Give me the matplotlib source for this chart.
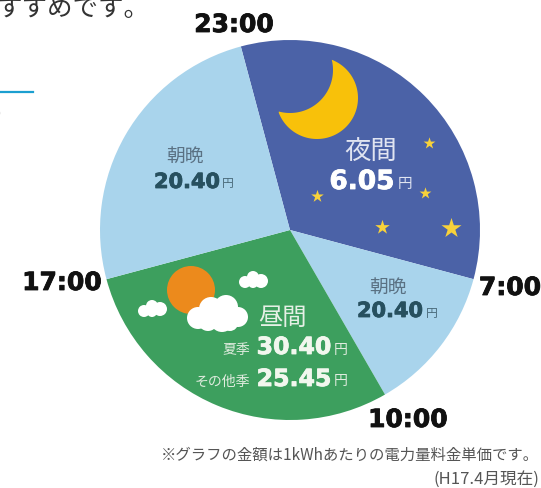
import numpy as np
import matplotlib
matplotlib.use("Agg")
import matplotlib.pyplot as plt
import matplotlib.patheffects as pe
from matplotlib.patches import Circle, Polygon

plt.rcParams['font.family'] = ['Noto Sans CJK JP', 'DejaVu Sans']

W, H = 541, 488
hours = [8, 3, 7, 6]
colors = ['#4b62a7', '#a9d4ec', '#3d9f5e', '#a9d4ec']
time_labels = ['23:00', '7:00', '10:00', '17:00']
price_night = '6.05'
price_morning = '20.40'
price_summer = '30.40'
price_other = '25.45'
note1 = '※グラフの金額は1kWhあたりの電力量料金単価です。'
note2 = '(H17.4月現在)'

fig = plt.figure(figsize=(W / 100, H / 100), dpi=100)
ax = fig.add_axes([0, 0, 1, 1])
Y = lambda y: H - y

ax.pie(hours, colors=colors, startangle=105, counterclock=False,
       center=(290, Y(230)), radius=190, frame=False)
ax.set_xlim(0, W)
ax.set_ylim(0, H)
ax.set_aspect('equal')
ax.axis('off')


def T(x, y, s, size, color, weight='normal', ha='center', family=None, stroke=0):
    kw = {'family': family} if family else {}
    t = ax.text(x, Y(y), s, fontsize=size, color=color, weight=weight, ha=ha,
                va='center', zorder=6, **kw)
    if stroke:
        t.set_path_effects([pe.withStroke(linewidth=stroke, foreground=color)])


BOLD = ['DejaVu Sans']

# Moon
oc, or_ = np.array([317, 98]), 41
ic, ir = np.array([290, 70]), 43
a_out = np.radians(np.linspace(-69, 159, 90))
a_in = np.radians(np.linspace(105, -15, 60))
pts_o = np.c_[oc[0] + or_ * np.cos(a_out), oc[1] + or_ * np.sin(a_out)]
pts_i = np.c_[ic[0] + ir * np.cos(a_in), ic[1] + ir * np.sin(a_in)]
moon = np.vstack([pts_o, pts_i])
moon[:, 1] = H - moon[:, 1]
ax.add_patch(Polygon(moon, closed=True, fc='#f8c10a', ec='none', zorder=3))

# Stars
for x, y, s in [(429, 143, 80), (317, 196, 90), (425, 193, 80), (382, 227, 120), (451, 228, 230)]:
    ax.scatter([x], [Y(y)], marker='*', s=s, color='#f8d23a', linewidths=0, zorder=4)

# Sun and clouds
ax.add_patch(Circle((191, Y(290)), 24, fc='#ec8a1c', ec='none', zorder=3))
big = [(198, 318, 11), (211, 309, 12), (226, 307, 12), (238, 317, 10), (222, 320, 12), (208, 321, 10), (230, 323, 8)]
sm1 = [(144, 311, 6), (152, 306, 6), (160, 309, 7), (152, 312, 5)]
sm2 = [(245, 282, 6), (253, 277, 6), (261, 281, 7), (253, 283, 5)]
for x, y, r in big + sm1 + sm2:
    ax.add_patch(Circle((x, Y(y)), r, fc='white', ec='none', zorder=4))

# Peripheral text
T(150, 9, 'すすめです。', 18.4, '#333333', ha='right')
ax.plot([0, 33], [Y(92), Y(92)], color='#1b9fd0', lw=1.6, zorder=2)
T(-1, 113, ')', 9, '#555555', ha='center')

# Time labels
for (x, y), s in zip([(234, 25), (510, 288), (408, 420), (62, 283)], time_labels):
    T(x, y, s, 18, '#111111', weight='bold', family=BOLD, stroke=0.6)

# Night
T(371, 152, '夜間', 19, '#e0e4f1')
T(362, 182, price_night, 19, 'white', weight='bold', family=BOLD, stroke=0.6)
T(405, 184, '円', 10.5, '#e0e4f1')

# Morning / evening
for lx, ly, px, py, yx in [(185, 156, 187, 182, 228), (388, 287, 390, 311, 432)]:
    T(lx, ly, '朝晩', 13.5, '#5a7183')
    T(px, py, price_morning, 15, '#27505f', weight='bold', family=BOLD, stroke=0.6)
    T(yx, py + 2, '円', 8.5, '#4a6a7a')

# Daytime
T(282, 318, '昼間', 17.5, '#e6f0e6')
T(236, 350, '夏季', 10, '#e0ecdf')
T(222, 382, 'その他季', 10, '#e0ecdf')
T(294, 347, price_summer, 17, '#f2f7ee', weight='bold', family=BOLD, stroke=0.6)
T(294, 379, price_other, 17, '#f2f7ee', weight='bold', family=BOLD, stroke=0.6)
T(341, 350, '円', 10, '#e0ecdf')
T(341, 381, '円', 10, '#e0ecdf')

# Footnotes
T(539, 455, note1, 11.1, '#555555', ha='right')
T(539, 479, note2, 12, '#555555', ha='right')

fig.savefig('out.png', dpi=100)
